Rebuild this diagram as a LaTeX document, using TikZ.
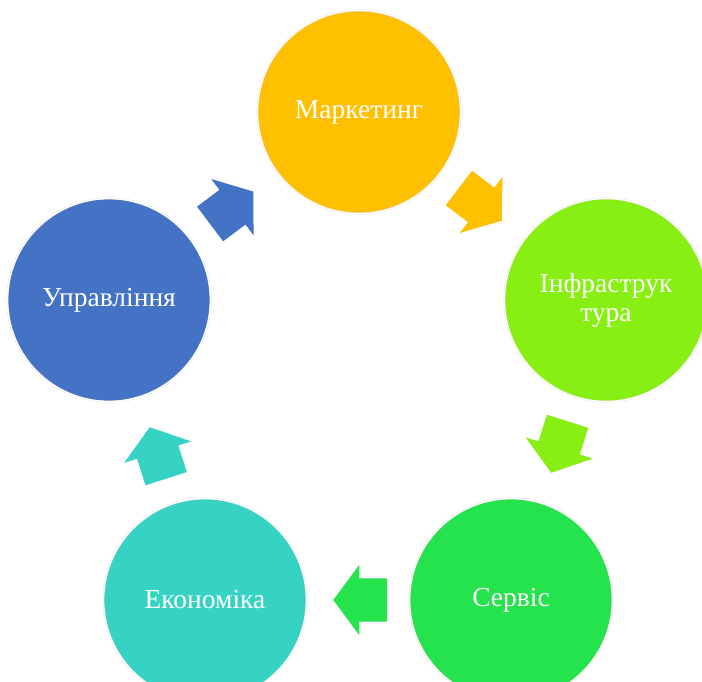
\documentclass[tikz,border=0pt]{standalone}
\usepackage{fontspec}
\setmainfont{Liberation Serif}
\usetikzlibrary{shapes.arrows}
\pgfdeclarelayer{edgelayer}
\pgfdeclarelayer{nodelayer}
\pgfsetlayers{edgelayer,nodelayer,main}
\definecolor{mblue}{HTML}{4472C4}
\definecolor{morange}{HTML}{FFC000}
\definecolor{mlime}{HTML}{88EF12}
\definecolor{mgreen}{HTML}{24E34C}
\definecolor{mteal}{HTML}{36D3C5}
\tikzstyle{stage}=[circle,draw=black!15,double=white,double distance=1.2pt,line width=0.3pt,minimum size=203pt,inner sep=0pt,text=white,align=center,font=\fontsize{27.5}{29}\selectfont]
\tikzstyle{flow}=[single arrow,minimum height=54pt,single arrow head extend=13.5pt,single arrow tip angle=107,inner xsep=0pt,inner ysep=21.5pt,outer sep=0pt,draw=none]

\begin{document}
\begin{tikzpicture}[x=1pt,y=1pt]
	\useasboundingbox (0,0) rectangle (702,-682);
	\begin{pgfonlayer}{nodelayer}
		\node [style=stage, fill=morange] (0) at (359, -112) {Маркетинг};
		\node [style=stage, fill=mlime] (1) at (606, -300) {Інфраструк\\тура};
		\node [style=stage, fill=mgreen] (2) at (511, -600) {Сервіс};
		\node [style=stage, fill=mteal] (3) at (205, -600) {Економіка};
		\node [style=stage, fill=mblue] (4) at (109, -300) {Управління};
	\end{pgfonlayer}
	\begin{pgfonlayer}{edgelayer}
		\path (0) -- (1) node [pos=0.4, sloped, allow upside down, style=flow, fill=morange] {};
		\path (1) -- (2) node [pos=0.4, sloped, allow upside down, style=flow, fill=mlime] {};
		\path (2) -- (3) node [pos=0.4, sloped, allow upside down, style=flow, fill=mgreen] {};
		\path (3) -- (4) node [pos=0.4, sloped, allow upside down, style=flow, fill=mteal] {};
		\path (4) -- (0) node [pos=0.4, sloped, allow upside down, style=flow, fill=mblue] {};
	\end{pgfonlayer}
\end{tikzpicture}
\end{document}
